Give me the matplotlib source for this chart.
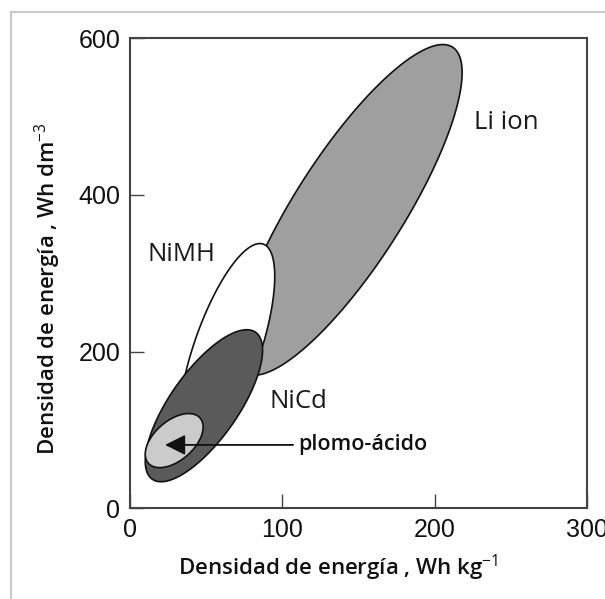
import numpy as np
import matplotlib
matplotlib.use("Agg")
import matplotlib.pyplot as plt
from matplotlib.patches import Polygon, Rectangle

plt.rcParams['mathtext.fontset'] = 'custom'
plt.rcParams['mathtext.rm'] = 'Open Sans'
plt.rcParams['mathtext.bf'] = 'Open Sans:bold'

# ---- data (ranges of each battery technology) ----
batteries = ["Li ion", "NiMH", "NiCd", "plomo-ácido"]
x_min = [69, 32, 10, 10]        # Wh/kg
x_max = [218, 95, 87, 48]
y_min = [170, 67, 34, 52]       # Wh/dm3
y_max = [592, 338, 228, 121]
corr = [0.83, 0.69, 0.73, 0.50]

x_ticks = [0, 100, 200, 300]
y_ticks = [0, 200, 400, 600]

# ---- style ----
fills = ["#9f9f9f", "#ffffff", "#5a5a5a", "#cbcbcb"]

fig = plt.figure(figsize=(6.05, 5.99), dpi=100)
ax = fig.add_axes([0.2149, 0.1513, 0.7554, 0.7848])

t = np.linspace(0, 2 * np.pi, 400)
for i, name in enumerate(batteries):
    cx = (x_min[i] + x_max[i]) / 2
    a = (x_max[i] - x_min[i]) / 2
    cy = (y_min[i] + y_max[i]) / 2
    b = (y_max[i] - y_min[i]) / 2
    r = corr[i]
    xs = cx + a * np.cos(t)
    ys = cy + b * (r * np.cos(t) + np.sqrt(1 - r ** 2) * np.sin(t))
    poly = Polygon(np.column_stack([xs, ys]), closed=True, facecolor=fills[i],
                   edgecolor="#111111", linewidth=1.2, zorder=2 + i)
    ax.add_patch(poly)

ax.set_xlim(0, 300)
ax.set_ylim(0, 600)
ax.set_xticks(x_ticks)
ax.set_yticks(y_ticks)
ax.tick_params(direction='in', length=10, width=1, pad=7, labelsize=18,
               colors='#444444', labelcolor='#111111')
for lab in ax.get_xticklabels() + ax.get_yticklabels():
    lab.set_family('Liberation Sans')
for sp in ax.spines.values():
    sp.set_linewidth(1.5)
    sp.set_color('#444444')

lab_font = dict(family='Open Sans', fontsize=16, fontweight='semibold', color='#111111')
ax.set_xlabel("Densidad de energía , Wh kg$^{-1}$", **lab_font)
ax.set_ylabel("Densidad de energía , Wh dm$^{-3}$", **lab_font)
ax.xaxis.set_label_coords(0.456, -0.095)
ax.yaxis.set_label_coords(-0.147, 0.467)

txt = dict(family='Open Sans', fontsize=18.5, color='#1a1a1a', ha='center', va='center')
ax.text(247, 493, "Li ion", zorder=10, **txt)
ax.text(33.6, 324, "NiMH", zorder=10, **txt)
ax.text(110.7, 136, "NiCd", zorder=10, **txt)

ax.annotate("plomo-ácido", xy=(23, 81), xytext=(110.7, 81),
            ha='left', va='center', family='Open Sans', fontsize=15.5,
            fontweight='semibold', color='#111111', zorder=10,
            arrowprops=dict(arrowstyle='-|>,head_length=0.8,head_width=0.4',
                            color='#111111', lw=1.3, shrinkA=2, shrinkB=0))

fig.add_artist(Rectangle((11 / 605, -0.1), 1.2, 1 - 12 / 599 + 0.1,
                         transform=fig.transFigure, fill=False,
                         edgecolor='#c8c8c8', linewidth=1.5, clip_on=False))

fig.savefig("out.png", dpi=100)
